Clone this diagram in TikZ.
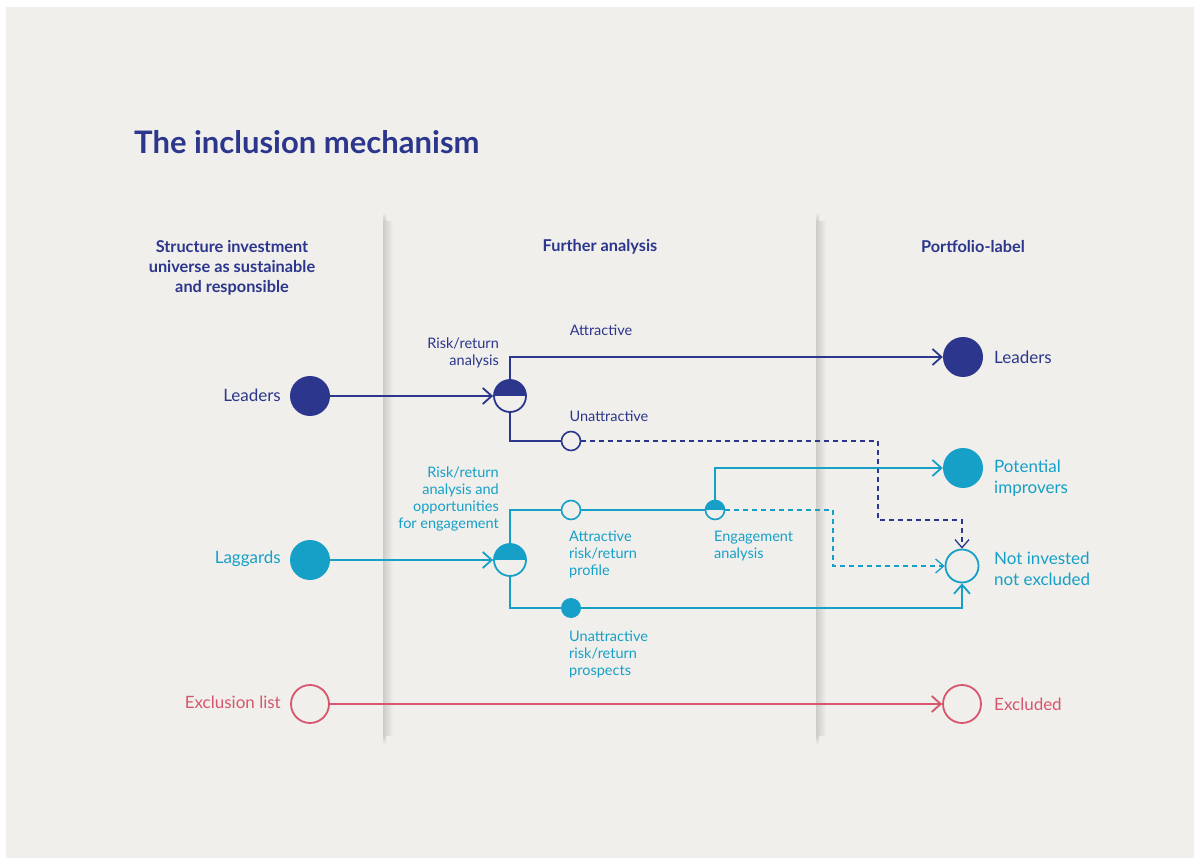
\documentclass[tikz,border=0pt]{standalone}
\usepackage{fontspec}
\setmainfont{Lato}
\usepackage{tikz}
\usetikzlibrary{arrows.meta,positioning,calc}
\usepackage{xcolor}
\definecolor{inkblue}{RGB}{43,54,140}
\definecolor{skyblue}{RGB}{22,160,200}
\definecolor{rosered}{RGB}{214,86,110}
\definecolor{paper}{RGB}{240,239,235}
\definecolor{shadow}{RGB}{205,204,200}
\tikzset{
    bigdisc/.style={circle, fill=#1, minimum size=40pt, inner sep=0pt},
    bigring/.style={circle, draw=#1, fill=paper, line width=1.8pt,
                    minimum size=38pt, inner sep=0pt},
    midring/.style={circle, draw=#1, fill=paper, line width=1.8pt,
                    minimum size=33pt, inner sep=0pt},
    smallring/.style={circle, draw=#1, fill=paper, line width=1.6pt,
                      minimum size=19pt, inner sep=0pt},
    smalldisc/.style={circle, fill=#1, minimum size=20pt, inner sep=0pt},
    split/.style={circle, draw=#1, fill=paper, line width=1.8pt,
                  minimum size=32pt, inner sep=0pt,
                  path picture={\fill[#1] (path picture bounding box.west)
                      rectangle (path picture bounding box.north east);}},
    halfdot/.style={circle, draw=#1, fill=paper, line width=1.6pt,
                    minimum size=19pt, inner sep=0pt,
                    path picture={\fill[#1] (path picture bounding box.west)
                        rectangle (path picture bounding box.north east);}},
    lbl/.style={text=#1, font=\fontsize{17}{20.5}\selectfont, inner sep=0pt},
    note/.style={text=#1, font=\fontsize{14.5}{17}\selectfont, inner sep=0pt},
    head/.style={text=inkblue, font=\fontsize{16.3}{20}\selectfont\bfseries,
                 inner sep=0pt, align=center},
}

\begin{document}
\begin{tikzpicture}[
    x=1pt, y=-1pt,
    flow/.style={line width=1.8pt},
    arr/.style={flow, -{Straight Barb[length=9pt, width=16pt]}},
    dasharr/.style={line width=1.3pt, dash pattern=on 5pt off 4pt,
                    -{Straight Barb[length=8pt, width=14pt]}},
]
    \useasboundingbox (0,0) rectangle (1194,858);
    \fill[white] (0,0) rectangle (1194,858);
    \fill[paper] (6,7) rectangle (1194,858);

    \foreach \sx in {383,816}{
        \shade[left color=shadow, right color=paper] (\sx,222) rectangle (\sx+10,735);
        \shade[top color=paper, bottom color=shadow] (\sx,212) rectangle (\sx+3,222);
        \shade[top color=shadow, bottom color=paper] (\sx,735) rectangle (\sx+3,745);
    }

    \node[anchor=west, text=inkblue, inner sep=0pt,
          font=\fontsize{31}{36}\selectfont\bfseries] (title) at (134,142)
        {The inclusion mechanism};

    \node[head] (colA) at (232,268) {Structure investment\\universe as sustainable\\and responsible};
    \node[head] (colB) at (600,247) {Further analysis};
    \node[head] (colC) at (973,247) {Portfolio-label};

    \node[bigdisc=inkblue] (leadin) at (310,396) {};
    \node[bigdisc=skyblue] (lagin) at (310,560) {};
    \node[bigring=rosered] (exin) at (310,704) {};

    \node[split=inkblue] (riskA) at (510,396) {};
    \node[split=skyblue] (riskB) at (510,560) {};
    \node[smallring=inkblue] (unattrA) at (571,441) {};
    \node[smallring=skyblue] (attrB) at (571,510) {};
    \node[smalldisc=skyblue] (unattrB) at (571,608) {};
    \node[halfdot=skyblue] (engage) at (715,510) {};

    \node[bigdisc=inkblue] (leadout) at (963,357) {};
    \node[bigdisc=skyblue] (improve) at (963,468) {};
    \node[midring=skyblue] (notinv) at (962,566) {};
    \node[bigring=rosered] (exout) at (962,704) {};

    \coordinate (bendA) at (878,520);
    \coordinate (bendB) at (833,566);

    \draw[arr, inkblue] (leadin) -- (riskA);
    \draw[arr, inkblue] (riskA.north) |- (leadout);
    \draw[flow, inkblue] (riskA.south) |- (unattrA);
    \draw[dasharr, inkblue] (unattrA) -| (bendA) -| (notinv);

    \draw[arr, skyblue] (lagin) -- (riskB);
    \draw[flow, skyblue] (riskB.north) |- (attrB);
    \draw[flow, skyblue] (attrB) -- (engage);
    \draw[arr, skyblue] (engage.north) |- (improve);
    \draw[dasharr, skyblue] (engage) -| (bendB) -- (notinv);
    \draw[flow, skyblue] (riskB.south) |- (unattrB);
    \draw[arr, skyblue] (unattrB) -| (notinv);

    \draw[arr, rosered] (exin) -- (exout);

    \node[lbl=inkblue, anchor=east] (leadlbl) at (281,395) {Leaders};
    \node[lbl=skyblue, anchor=east] (laglbl) at (281,559) {Laggards};
    \node[lbl=rosered, anchor=east] (exlbl) at (281,702) {Exclusion list};

    \node[note=inkblue, anchor=east, align=right] (riskAlbl) at (499,353) {Risk/return\\analysis};
    \node[note=inkblue] (attrAlbl) at (601,330) {Attractive};
    \node[note=inkblue] (unattrAlbl) at (609,416) {Unattractive};
    \node[note=skyblue, anchor=east, align=right] (riskBlbl) at (499,499) {Risk/return\\analysis and\\opportunities\\for engagement};
    \node[note=skyblue, anchor=west, align=left] (attrBlbl) at (569,554) {Attractive\\risk/return\\profile};
    \node[note=skyblue, anchor=west, align=left] (unattrBlbl) at (569,654) {Unattractive\\risk/return\\prospects};
    \node[note=skyblue, anchor=west, align=left] (engagelbl) at (714,546) {Engagement\\analysis};

    \node[lbl=inkblue, anchor=west] (leadoutlbl) at (994,357) {Leaders};
    \node[lbl=skyblue, anchor=west, align=left] (improvelbl) at (994,478) {Potential\\improvers};
    \node[lbl=skyblue, anchor=west, align=left] (notinvlbl) at (994,569) {Not invested\\not excluded};
    \node[lbl=rosered, anchor=west] (exoutlbl) at (994,704) {Excluded};
\end{tikzpicture}
\end{document}
